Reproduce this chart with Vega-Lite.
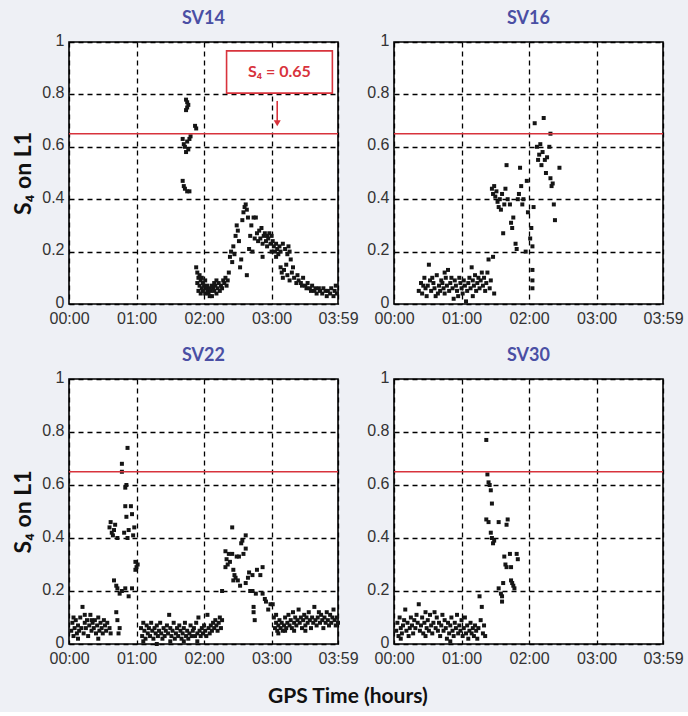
{
"$schema": "https://vega.github.io/schema/vega-lite/v6.json",
"background": "#eef0f5",
"padding": {"left": 11, "top": 9, "right": 5, "bottom": 5},
"title": {"text": "GPS Time (hours)", "orient": "bottom", "anchor": "middle", "color": "#111111", "font": "Lato", "fontSize": 21, "fontWeight": "bold", "offset": 19},
"config": {
  "view": {"fill": "white", "stroke": "black", "strokeWidth": 1.6},
  "title": {"font": "Lato", "fontSize": 18, "fontWeight": "bold", "color": "#4a4fa4", "offset": 0},
  "axis": {"labelFont": "Liberation Sans", "labelFontSize": 16, "labelColor": "#333333", "labelPadding": 5, "grid": true, "gridColor": "black", "gridDash": [5, 4], "gridWidth": 1.3, "gridOpacity": 1, "domain": false, "ticks": false, "labelOverlap": false, "labelFlush": false, "titleFont": "Lato", "titleFontSize": 23, "titleFontWeight": "bold", "titleColor": "#111111"},
  "axisX": {"labelPadding": 6},
  "axisY": {"labelOffset": -2}
},
"datasets": {
  "ref": [{"s": 0.65}],
  "box": [{"t1": 140, "t2": 234, "s1": 0.805, "s2": 0.966, "tx": 187, "sy": 0.885, "label": "S₄ = 0.65"}],
  "arrow": [{"t": 185, "s1": 0.69, "s2": 0.775}],
  "sv14": [
{"t":104,"s":0.78},{"t":105,"s":0.77},{"t":106,"s":0.76},{"t":105,"s":0.75},{"t":104,"s":0.74},{"t":112,"s":0.68},{"t":113,"s":0.67},{"t":101,"s":0.63},{"t":102,"s":0.61},{"t":103,"s":0.60},{"t":105,"s":0.62},{"t":107,"s":0.63},{"t":104,"s":0.58},{"t":106,"s":0.59},{"t":108,"s":0.64},{"t":101,"s":0.47},{"t":102,"s":0.45},{"t":103,"s":0.44},{"t":105,"s":0.43},{"t":107,"s":0.43},
{"t":113,"s":0.14},{"t":114,"s":0.12},{"t":115,"s":0.10},{"t":114,"s":0.08},{"t":116,"s":0.07},{"t":117,"s":0.09},{"t":118,"s":0.06},{"t":119,"s":0.05},{"t":120,"s":0.07},{"t":121,"s":0.04},{"t":122,"s":0.06},{"t":123,"s":0.05},{"t":124,"s":0.04},{"t":125,"s":0.06},{"t":126,"s":0.05},{"t":127,"s":0.03},{"t":128,"s":0.06},{"t":129,"s":0.05},{"t":130,"s":0.07},{"t":131,"s":0.04},{"t":132,"s":0.06},{"t":133,"s":0.08},{"t":134,"s":0.05},{"t":135,"s":0.07},{"t":136,"s":0.06},{"t":137,"s":0.09},{"t":138,"s":0.08},{"t":139,"s":0.10},{"t":140,"s":0.07},{"t":141,"s":0.09},{"t":115,"s":0.05},{"t":117,"s":0.04},{"t":119,"s":0.08},{"t":121,"s":0.09},{"t":123,"s":0.07},{"t":125,"s":0.03},{"t":127,"s":0.07},{"t":129,"s":0.08},{"t":131,"s":0.09},{"t":116,"s":0.11},{"t":118,"s":0.10},
{"t":142,"s":0.12},{"t":143,"s":0.18},{"t":144,"s":0.20},{"t":145,"s":0.16},{"t":146,"s":0.22},{"t":147,"s":0.19},{"t":148,"s":0.26},{"t":149,"s":0.30},{"t":150,"s":0.28},{"t":151,"s":0.24},{"t":152,"s":0.14},{"t":153,"s":0.17},{"t":154,"s":0.32},{"t":155,"s":0.35},{"t":156,"s":0.37},{"t":157,"s":0.38},{"t":158,"s":0.36},{"t":159,"s":0.33},{"t":158,"s":0.11},{"t":160,"s":0.21},{"t":161,"s":0.26},{"t":162,"s":0.30},{"t":164,"s":0.33},{"t":166,"s":0.33},{"t":163,"s":0.20},{"t":165,"s":0.25},
{"t":167,"s":0.27},{"t":168,"s":0.24},{"t":169,"s":0.28},{"t":170,"s":0.25},{"t":171,"s":0.29},{"t":172,"s":0.23},{"t":173,"s":0.26},{"t":174,"s":0.27},{"t":175,"s":0.24},{"t":176,"s":0.22},{"t":177,"s":0.25},{"t":178,"s":0.27},{"t":179,"s":0.23},{"t":180,"s":0.26},{"t":181,"s":0.24},{"t":182,"s":0.22},{"t":183,"s":0.20},{"t":184,"s":0.23},{"t":185,"s":0.21},{"t":186,"s":0.19},{"t":187,"s":0.22},{"t":188,"s":0.20},{"t":172,"s":0.18},{"t":176,"s":0.26},{"t":180,"s":0.20},{"t":184,"s":0.18},
{"t":190,"s":0.23},{"t":192,"s":0.21},{"t":194,"s":0.19},{"t":195,"s":0.22},{"t":196,"s":0.20},{"t":197,"s":0.17},{"t":188,"s":0.14},{"t":189,"s":0.12},{"t":190,"s":0.10},{"t":191,"s":0.13},{"t":193,"s":0.15},{"t":194,"s":0.11},{"t":196,"s":0.09},{"t":198,"s":0.12},{"t":199,"s":0.14},{"t":200,"s":0.10},{"t":202,"s":0.08},{"t":203,"s":0.11},{"t":204,"s":0.09},{"t":206,"s":0.08},{"t":207,"s":0.07},{"t":208,"s":0.10},{"t":210,"s":0.07},{"t":211,"s":0.06},{"t":212,"s":0.08},{"t":214,"s":0.06},{"t":215,"s":0.05},{"t":216,"s":0.07},{"t":218,"s":0.05},{"t":219,"s":0.06},{"t":220,"s":0.04},{"t":222,"s":0.06},{"t":223,"s":0.05},{"t":225,"s":0.04},{"t":226,"s":0.06},{"t":228,"s":0.05},{"t":229,"s":0.03},{"t":230,"s":0.05},{"t":232,"s":0.04},{"t":233,"s":0.06},{"t":235,"s":0.03},{"t":236,"s":0.05},{"t":238,"s":0.04},{"t":237,"s":0.07}
  ],
  "sv16": [
{"t":22,"s":0.05},{"t":24,"s":0.08},{"t":25,"s":0.04},{"t":27,"s":0.10},{"t":28,"s":0.06},{"t":30,"s":0.07},{"t":31,"s":0.15},{"t":32,"s":0.09},{"t":33,"s":0.05},{"t":35,"s":0.08},{"t":36,"s":0.06},{"t":37,"s":0.03},{"t":38,"s":0.11},{"t":40,"s":0.07},{"t":41,"s":0.05},{"t":42,"s":0.09},{"t":44,"s":0.06},{"t":45,"s":0.04},{"t":46,"s":0.10},{"t":47,"s":0.07},{"t":48,"s":0.13},{"t":49,"s":0.05},{"t":50,"s":0.08},{"t":52,"s":0.06},{"t":53,"s":0.02},{"t":54,"s":0.09},{"t":55,"s":0.07},{"t":56,"s":0.05},{"t":58,"s":0.10},{"t":59,"s":0.08},{"t":60,"s":0.06},{"t":61,"s":0.04},{"t":62,"s":0.09},{"t":63,"s":0.07},{"t":64,"s":0.01},{"t":65,"s":0.05},{"t":66,"s":0.08},{"t":67,"s":0.10},{"t":68,"s":0.06},{"t":69,"s":0.14},{"t":70,"s":0.09},{"t":71,"s":0.07},{"t":72,"s":0.11},{"t":73,"s":0.05},{"t":74,"s":0.08},{"t":75,"s":0.10},{"t":76,"s":0.06},{"t":77,"s":0.09},{"t":78,"s":0.12},{"t":79,"s":0.07},{"t":80,"s":0.10},{"t":81,"s":0.05},{"t":82,"s":0.08},{"t":84,"s":0.17},{"t":85,"s":0.06},{"t":86,"s":0.09},{"t":88,"s":0.18},{"t":89,"s":0.04},{"t":26,"s":0.07},{"t":34,"s":0.10},{"t":39,"s":0.04},{"t":43,"s":0.08},{"t":51,"s":0.10},{"t":57,"s":0.03},{"t":70,"s":0.03},{"t":83,"s":0.12},{"t":29,"s":0.03},{"t":45,"s":0.12},
{"t":87,"s":0.44},{"t":88,"s":0.42},{"t":89,"s":0.45},{"t":90,"s":0.41},{"t":91,"s":0.43},{"t":92,"s":0.39},{"t":93,"s":0.37},{"t":94,"s":0.40},{"t":95,"s":0.36},{"t":96,"s":0.42},{"t":97,"s":0.27},{"t":98,"s":0.38},{"t":100,"s":0.53},{"t":99,"s":0.44},{"t":101,"s":0.40},{"t":103,"s":0.38},{"t":104,"s":0.31},{"t":105,"s":0.29},{"t":106,"s":0.33},{"t":108,"s":0.23},{"t":109,"s":0.21},{"t":110,"s":0.40},{"t":111,"s":0.42},{"t":112,"s":0.52},{"t":113,"s":0.45},{"t":114,"s":0.38},{"t":115,"s":0.40},{"t":117,"s":0.20},{"t":118,"s":0.47},{"t":119,"s":0.35},{"t":121,"s":0.25},{"t":122,"s":0.29},{"t":123,"s":0.22},{"t":123,"s":0.13},{"t":123,"s":0.09},{"t":123,"s":0.06},{"t":124,"s":0.37},
{"t":125,"s":0.69},{"t":127,"s":0.60},{"t":128,"s":0.55},{"t":129,"s":0.57},{"t":130,"s":0.61},{"t":131,"s":0.53},{"t":132,"s":0.58},{"t":133,"s":0.71},{"t":134,"s":0.55},{"t":135,"s":0.50},{"t":136,"s":0.56},{"t":138,"s":0.60},{"t":139,"s":0.65},{"t":139,"s":0.48},{"t":140,"s":0.45},{"t":141,"s":0.46},{"t":142,"s":0.38},{"t":143,"s":0.32},{"t":147,"s":0.52}
  ],
  "sv22": [
{"t":2,"s":0.05},{"t":3,"s":0.08},{"t":4,"s":0.03},{"t":5,"s":0.06},{"t":6,"s":0.09},{"t":7,"s":0.04},{"t":8,"s":0.07},{"t":9,"s":0.05},{"t":10,"s":0.10},{"t":11,"s":0.06},{"t":12,"s":0.14},{"t":13,"s":0.04},{"t":14,"s":0.08},{"t":15,"s":0.06},{"t":16,"s":0.09},{"t":17,"s":0.03},{"t":18,"s":0.07},{"t":19,"s":0.11},{"t":20,"s":0.05},{"t":21,"s":0.08},{"t":22,"s":0.06},{"t":23,"s":0.09},{"t":24,"s":0.04},{"t":25,"s":0.07},{"t":26,"s":0.10},{"t":27,"s":0.05},{"t":28,"s":0.08},{"t":29,"s":0.06},{"t":30,"s":0.04},{"t":31,"s":0.09},{"t":32,"s":0.07},{"t":33,"s":0.05},{"t":34,"s":0.08},{"t":36,"s":0.06},{"t":37,"s":0.04},{"t":4,"s":0.10},{"t":8,"s":0.02},{"t":14,"s":0.11},{"t":20,"s":0.09},{"t":26,"s":0.02},
{"t":42,"s":0.12},{"t":44,"s":0.04},{"t":45,"s":0.06},{"t":43,"s":0.09},
{"t":36,"s":0.44},{"t":37,"s":0.46},{"t":38,"s":0.42},{"t":39,"s":0.41},{"t":40,"s":0.43},{"t":41,"s":0.45},{"t":43,"s":0.40},{"t":40,"s":0.24},{"t":42,"s":0.22},{"t":43,"s":0.21},{"t":45,"s":0.19},{"t":47,"s":0.20},
{"t":47,"s":0.68},{"t":47,"s":0.65},{"t":52,"s":0.74},{"t":50,"s":0.59},{"t":51,"s":0.60},{"t":49,"s":0.42},{"t":50,"s":0.52},{"t":51,"s":0.48},{"t":55,"s":0.52},{"t":56,"s":0.49},{"t":57,"s":0.41},{"t":58,"s":0.44},{"t":52,"s":0.40},{"t":53,"s":0.43},
{"t":59,"s":0.31},{"t":60,"s":0.29},{"t":59,"s":0.28},{"t":61,"s":0.30},{"t":50,"s":0.21},{"t":56,"s":0.21},{"t":53,"s":0.18},
{"t":64,"s":0.06},{"t":65,"s":0.03},{"t":66,"s":0.08},{"t":67,"s":0.05},{"t":68,"s":0.02},{"t":69,"s":0.07},{"t":70,"s":0.04},{"t":71,"s":0.06},{"t":72,"s":0.03},{"t":73,"s":0.08},{"t":74,"s":0.05},{"t":75,"s":0.02},{"t":76,"s":0.06},{"t":77,"s":0.04},{"t":78,"s":0.07},{"t":79,"s":0.03},{"t":80,"s":0.05},{"t":81,"s":0.08},{"t":82,"s":0.04},{"t":83,"s":0.02},{"t":84,"s":0.06},{"t":85,"s":0.03},{"t":86,"s":0.05},{"t":87,"s":0.07},{"t":88,"s":0.04},{"t":89,"s":0.11},{"t":90,"s":0.06},{"t":91,"s":0.03},{"t":92,"s":0.05},{"t":93,"s":0.08},{"t":94,"s":0.02},{"t":95,"s":0.04},{"t":96,"s":0.06},{"t":97,"s":0.03},{"t":98,"s":0.07},{"t":99,"s":0.05},{"t":100,"s":0.02},{"t":101,"s":0.04},{"t":102,"s":0.06},{"t":103,"s":0.08},{"t":104,"s":0.03},{"t":105,"s":0.05},{"t":106,"s":0.02},{"t":107,"s":0.04},{"t":108,"s":0.07},{"t":109,"s":0.03},{"t":110,"s":0.05},{"t":111,"s":0.06},{"t":112,"s":0.03},{"t":113,"s":0.08},{"t":114,"s":0.04},{"t":115,"s":0.10},{"t":116,"s":0.05},{"t":117,"s":0.03},{"t":118,"s":0.06},{"t":119,"s":0.04},{"t":120,"s":0.07},{"t":121,"s":0.05},{"t":122,"s":0.03},{"t":123,"s":0.11},{"t":124,"s":0.06},{"t":125,"s":0.04},{"t":126,"s":0.07},{"t":127,"s":0.05},{"t":128,"s":0.08},{"t":129,"s":0.06},{"t":130,"s":0.09},{"t":131,"s":0.07},{"t":132,"s":0.05},{"t":133,"s":0.08},{"t":134,"s":0.10},{"t":135,"s":0.06},{"t":136,"s":0.09},{"t":66,"s":0.01},{"t":78,"s":0.00},{"t":90,"s":0.01},{"t":102,"s":0.01},{"t":114,"s":0.01},
{"t":136,"s":0.20},{"t":139,"s":0.35},{"t":139,"s":0.29},{"t":140,"s":0.32},{"t":141,"s":0.30},{"t":142,"s":0.34},{"t":143,"s":0.31},{"t":145,"s":0.44},{"t":145,"s":0.34},{"t":146,"s":0.28},{"t":146,"s":0.24},{"t":147,"s":0.26},{"t":148,"s":0.25},{"t":149,"s":0.33},{"t":150,"s":0.24},{"t":151,"s":0.33},{"t":152,"s":0.22},{"t":153,"s":0.38},{"t":154,"s":0.39},{"t":155,"s":0.34},{"t":157,"s":0.41},{"t":157,"s":0.36},{"t":157,"s":0.23},{"t":159,"s":0.25},{"t":160,"s":0.27},{"t":161,"s":0.20},{"t":163,"s":0.26},{"t":163,"s":0.20},{"t":164,"s":0.14},{"t":164,"s":0.12},{"t":165,"s":0.09},{"t":166,"s":0.19},{"t":167,"s":0.28},{"t":170,"s":0.26},{"t":172,"s":0.29},{"t":172,"s":0.19},{"t":174,"s":0.17},{"t":175,"s":0.16},{"t":177,"s":0.13},{"t":179,"s":0.15},{"t":181,"s":0.15},{"t":182,"s":0.10},{"t":184,"s":0.11},
{"t":183,"s":0.06},{"t":184,"s":0.08},{"t":185,"s":0.05},{"t":186,"s":0.07},{"t":187,"s":0.09},{"t":188,"s":0.06},{"t":189,"s":0.08},{"t":190,"s":0.05},{"t":191,"s":0.07},{"t":192,"s":0.10},{"t":193,"s":0.06},{"t":194,"s":0.08},{"t":195,"s":0.11},{"t":196,"s":0.07},{"t":197,"s":0.09},{"t":198,"s":0.06},{"t":199,"s":0.12},{"t":200,"s":0.08},{"t":201,"s":0.10},{"t":202,"s":0.07},{"t":203,"s":0.09},{"t":204,"s":0.13},{"t":205,"s":0.08},{"t":206,"s":0.10},{"t":207,"s":0.06},{"t":208,"s":0.09},{"t":209,"s":0.11},{"t":210,"s":0.07},{"t":211,"s":0.10},{"t":212,"s":0.08},{"t":213,"s":0.12},{"t":214,"s":0.09},{"t":215,"s":0.06},{"t":216,"s":0.10},{"t":217,"s":0.08},{"t":218,"s":0.14},{"t":219,"s":0.09},{"t":220,"s":0.07},{"t":221,"s":0.10},{"t":222,"s":0.12},{"t":223,"s":0.08},{"t":224,"s":0.11},{"t":225,"s":0.09},{"t":226,"s":0.06},{"t":227,"s":0.10},{"t":228,"s":0.08},{"t":229,"s":0.12},{"t":230,"s":0.09},{"t":231,"s":0.07},{"t":232,"s":0.11},{"t":233,"s":0.08},{"t":234,"s":0.10},{"t":235,"s":0.13},{"t":236,"s":0.09},{"t":237,"s":0.07},{"t":238,"s":0.10},{"t":239,"s":0.08},{"t":186,"s":0.04},{"t":192,"s":0.05},{"t":200,"s":0.05},{"t":210,"s":0.05}
  ],
  "sv30": [
{"t":2,"s":0.05},{"t":3,"s":0.08},{"t":4,"s":0.03},{"t":5,"s":0.10},{"t":6,"s":0.06},{"t":7,"s":0.04},{"t":8,"s":0.07},{"t":9,"s":0.09},{"t":10,"s":0.13},{"t":11,"s":0.05},{"t":12,"s":0.08},{"t":13,"s":0.03},{"t":14,"s":0.06},{"t":15,"s":0.10},{"t":16,"s":0.07},{"t":17,"s":0.04},{"t":18,"s":0.09},{"t":19,"s":0.06},{"t":20,"s":0.11},{"t":21,"s":0.08},{"t":22,"s":0.15},{"t":23,"s":0.05},{"t":24,"s":0.07},{"t":25,"s":0.10},{"t":26,"s":0.04},{"t":27,"s":0.08},{"t":28,"s":0.12},{"t":29,"s":0.06},{"t":30,"s":0.09},{"t":31,"s":0.05},{"t":32,"s":0.11},{"t":33,"s":0.07},{"t":34,"s":0.04},{"t":35,"s":0.08},{"t":36,"s":0.12},{"t":37,"s":0.06},{"t":38,"s":0.10},{"t":39,"s":0.05},{"t":40,"s":0.08},{"t":41,"s":0.03},{"t":42,"s":0.07},{"t":43,"s":0.11},{"t":44,"s":0.05},{"t":45,"s":0.09},{"t":46,"s":0.06},{"t":47,"s":0.02},{"t":48,"s":0.08},{"t":49,"s":0.04},{"t":50,"s":0.07},{"t":51,"s":0.10},{"t":52,"s":0.05},{"t":53,"s":0.03},{"t":54,"s":0.08},{"t":55,"s":0.06},{"t":56,"s":0.11},{"t":57,"s":0.04},{"t":58,"s":0.07},{"t":59,"s":0.05},{"t":60,"s":0.09},{"t":61,"s":0.03},{"t":62,"s":0.06},{"t":63,"s":0.10},{"t":64,"s":0.04},{"t":65,"s":0.07},{"t":66,"s":0.02},{"t":67,"s":0.05},{"t":68,"s":0.08},{"t":69,"s":0.04},{"t":70,"s":0.06},{"t":71,"s":0.03},{"t":72,"s":0.07},{"t":73,"s":0.05},{"t":74,"s":0.02},{"t":75,"s":0.06},{"t":76,"s":0.18},{"t":77,"s":0.09},{"t":78,"s":0.14},{"t":79,"s":0.04},{"t":80,"s":0.07},{"t":81,"s":0.03},{"t":50,"s":0.01},{"t":6,"s":0.02},{"t":28,"s":0.03},
{"t":82,"s":0.77},{"t":83,"s":0.64},{"t":84,"s":0.61},{"t":85,"s":0.60},{"t":86,"s":0.58},{"t":87,"s":0.53},{"t":82,"s":0.47},{"t":84,"s":0.46},{"t":93,"s":0.46},{"t":101,"s":0.47},{"t":100,"s":0.45},{"t":86,"s":0.42},{"t":87,"s":0.40},{"t":88,"s":0.38},{"t":89,"s":0.39},{"t":98,"s":0.33},{"t":99,"s":0.30},{"t":100,"s":0.29},{"t":103,"s":0.34},{"t":104,"s":0.29},{"t":109,"s":0.34},{"t":110,"s":0.32},{"t":93,"s":0.21},{"t":95,"s":0.19},{"t":96,"s":0.16},{"t":96,"s":0.18},{"t":104,"s":0.24},{"t":105,"s":0.23},{"t":106,"s":0.22},{"t":107,"s":0.21},{"t":97,"s":0.23}
  ]
},
"spacing": 19,
"vconcat": [
 {"spacing": 6, "hconcat": [
  {"width": 269, "height": 262, "title": "SV14",
   "layer": [
    {"data": {"name": "sv14"}, "mark": {"type": "point", "shape": "square", "filled": true, "size": 16, "color": "#151515", "opacity": 1},
     "encoding": {
      "x": {"field": "t", "type": "quantitative", "scale": {"domain": [0, 239], "nice": false, "zero": false}, "axis": {"values": [0, 60, 120, 180, 239], "labelExpr": "datum.value == 239 ? '03:59' : '0' + floor(datum.value / 60) + ':00'", "title": null}},
      "y": {"field": "s", "type": "quantitative", "scale": {"domain": [0, 1], "nice": false}, "axis": {"values": [0, 0.2, 0.4, 0.6, 0.8, 1], "format": "~g", "title": "S₄ on L1", "titlePadding": 6}}}},
    {"data": {"name": "ref"}, "mark": {"type": "rule", "color": "#d8333c", "strokeWidth": 1.6}, "encoding": {"y": {"field": "s", "type": "quantitative"}}},
    {"data": {"name": "box"}, "mark": {"type": "rect", "fill": "white", "stroke": "#d8333c", "strokeWidth": 1.6}, "encoding": {"x": {"field": "t1", "type": "quantitative"}, "x2": {"field": "t2"}, "y": {"field": "s1", "type": "quantitative"}, "y2": {"field": "s2"}}},
    {"data": {"name": "box"}, "mark": {"type": "text", "color": "#d8333c", "font": "Lato", "fontSize": 16, "fontWeight": "bold"}, "encoding": {"x": {"field": "tx", "type": "quantitative"}, "y": {"field": "sy", "type": "quantitative"}, "text": {"field": "label"}}},
    {"data": {"name": "arrow"}, "mark": {"type": "rule", "color": "#d8333c", "strokeWidth": 1.6}, "encoding": {"x": {"field": "t", "type": "quantitative"}, "y": {"field": "s1", "type": "quantitative"}, "y2": {"field": "s2"}}},
    {"data": {"name": "arrow"}, "mark": {"type": "point", "shape": "triangle-down", "filled": true, "size": 50, "color": "#d8333c", "opacity": 1}, "encoding": {"x": {"field": "t", "type": "quantitative"}, "y": {"field": "s1", "type": "quantitative"}}}
   ]},
  {"width": 269, "height": 262, "title": "SV16",
   "layer": [
    {"data": {"name": "sv16"}, "mark": {"type": "point", "shape": "square", "filled": true, "size": 16, "color": "#151515", "opacity": 1},
     "encoding": {
      "x": {"field": "t", "type": "quantitative", "scale": {"domain": [0, 239], "nice": false, "zero": false}, "axis": {"values": [0, 60, 120, 180, 239], "labelExpr": "datum.value == 239 ? '03:59' : '0' + floor(datum.value / 60) + ':00'", "title": null}},
      "y": {"field": "s", "type": "quantitative", "scale": {"domain": [0, 1], "nice": false}, "axis": {"values": [0, 0.2, 0.4, 0.6, 0.8, 1], "format": "~g", "title": null}}}},
    {"data": {"name": "ref"}, "mark": {"type": "rule", "color": "#d8333c", "strokeWidth": 1.6}, "encoding": {"y": {"field": "s", "type": "quantitative"}}}
   ]}
 ]},
 {"spacing": 6, "hconcat": [
  {"width": 269, "height": 265, "title": "SV22",
   "layer": [
    {"data": {"name": "sv22"}, "mark": {"type": "point", "shape": "square", "filled": true, "size": 16, "color": "#151515", "opacity": 1},
     "encoding": {
      "x": {"field": "t", "type": "quantitative", "scale": {"domain": [0, 239], "nice": false, "zero": false}, "axis": {"values": [0, 60, 120, 180, 239], "labelExpr": "datum.value == 239 ? '03:59' : '0' + floor(datum.value / 60) + ':00'", "title": null}},
      "y": {"field": "s", "type": "quantitative", "scale": {"domain": [0, 1], "nice": false}, "axis": {"values": [0, 0.2, 0.4, 0.6, 0.8, 1], "format": "~g", "title": "S₄ on L1", "titlePadding": 6}}}},
    {"data": {"name": "ref"}, "mark": {"type": "rule", "color": "#d8333c", "strokeWidth": 1.6}, "encoding": {"y": {"field": "s", "type": "quantitative"}}}
   ]},
  {"width": 269, "height": 265, "title": "SV30",
   "layer": [
    {"data": {"name": "sv30"}, "mark": {"type": "point", "shape": "square", "filled": true, "size": 16, "color": "#151515", "opacity": 1},
     "encoding": {
      "x": {"field": "t", "type": "quantitative", "scale": {"domain": [0, 239], "nice": false, "zero": false}, "axis": {"values": [0, 60, 120, 180, 239], "labelExpr": "datum.value == 239 ? '03:59' : '0' + floor(datum.value / 60) + ':00'", "title": null}},
      "y": {"field": "s", "type": "quantitative", "scale": {"domain": [0, 1], "nice": false}, "axis": {"values": [0, 0.2, 0.4, 0.6, 0.8, 1], "format": "~g", "title": null}}}},
    {"data": {"name": "ref"}, "mark": {"type": "rule", "color": "#d8333c", "strokeWidth": 1.6}, "encoding": {"y": {"field": "s", "type": "quantitative"}}}
   ]}
 ]}
]
}
